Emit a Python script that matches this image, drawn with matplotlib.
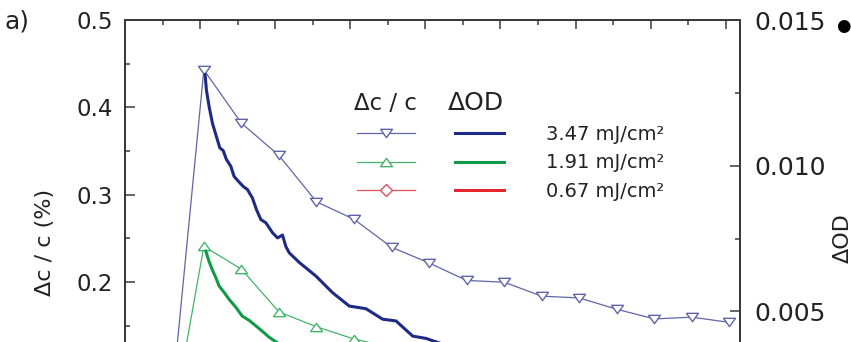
import matplotlib
matplotlib.use("Agg")
import matplotlib.pyplot as plt
from matplotlib.ticker import MultipleLocator, FormatStrFormatter

# ---- data -------------------------------------------------------------
# relative concentration change (Δc/c, %) sampled every 0.5 time units
t_dc = [-0.45, 0.05, 0.55, 1.05, 1.55, 2.05, 2.55, 3.05, 3.55, 4.05,
        4.55, 5.05, 5.55, 6.05, 6.55, 7.05]
dc_347 = [0.0, 0.443, 0.382, 0.345, 0.292, 0.272, 0.240, 0.222, 0.202,
          0.200, 0.184, 0.182, 0.169, 0.158, 0.160, 0.154]
dc_191 = [0.0, 0.241, 0.215, 0.166, 0.149, 0.135, 0.125, 0.116, 0.109,
          0.103, 0.099, 0.095, 0.091, 0.088, 0.086, 0.084]
dc_067 = [0.0, 0.085, 0.078, 0.068, 0.062, 0.057, 0.053, 0.050, 0.047,
          0.045, 0.043, 0.041, 0.040, 0.039, 0.038, 0.037]

# optical density change (ΔOD) traces
t_od_347 = [0.067, 0.084, 0.120, 0.164, 0.217, 0.263, 0.307, 0.351, 0.409,
            0.453, 0.497, 0.573, 0.631, 0.697, 0.751, 0.809, 0.876, 0.964,
            1.031, 1.097, 1.143, 1.187, 1.320, 1.543, 1.764, 1.987, 2.209,
            2.431, 2.609, 2.831, 3.009, 3.200, 3.500, 4.000, 4.500, 5.000,
            5.500, 6.000, 6.500, 7.100]
od_347 = [0.01312, 0.01260, 0.01203, 0.01146, 0.01100, 0.01061, 0.01052,
          0.01021, 0.00998, 0.00963, 0.00950, 0.00929, 0.00918, 0.00889,
          0.00849, 0.00815, 0.00804, 0.00770, 0.00752, 0.00762, 0.00722,
          0.00701, 0.00668, 0.00621, 0.00564, 0.00518, 0.00509, 0.00473,
          0.00467, 0.00415, 0.00407, 0.00390, 0.00360, 0.00320, 0.00290,
          0.00270, 0.00250, 0.00240, 0.00230, 0.00220]

t_od_191 = [0.076, 0.120, 0.160, 0.209, 0.253, 0.320, 0.387, 0.476, 0.560,
            0.653, 0.743, 0.827, 0.920, 1.100, 1.400, 1.800, 2.500, 3.500,
            4.500, 5.500, 6.500, 7.100]
od_191 = [0.00707, 0.00671, 0.00644, 0.00616, 0.00587, 0.00565, 0.00541,
          0.00514, 0.00484, 0.00469, 0.00450, 0.00432, 0.00411, 0.00380,
          0.00340, 0.00300, 0.00250, 0.00210, 0.00180, 0.00160, 0.00150,
          0.00140]

t_od_067 = [0.07, 0.5, 1.0, 2.0, 3.0, 4.0, 5.0, 6.0, 7.1]
od_067 = [0.0025, 0.0019, 0.0016, 0.0012, 0.0010, 0.0009, 0.0008, 0.0007,
          0.0007]

fluence_labels = ["3.47 mJ/cm²", "1.91 mJ/cm²", "0.67 mJ/cm²"]

# ---- style ------------------------------------------------------------
W, H = 851, 342
thin_cols = ["#6164a8", "#43b46a", "#e0505c"]
thick_cols = ["#1e2a86", "#119a47", "#e3262f"]
spine_col = "#3a3a3a"
text_col = "#222222"

# flattened open triangles
tri_down = [(-1.0, 0.7), (1.0, 0.7), (0.0, -0.7), (-1.0, 0.7)]
tri_up = [(-1.0, -0.7), (1.0, -0.7), (0.0, 0.7), (-1.0, -0.7)]


def fx(px):
    return px / W


def fy(py):
    return 1 - py / H


fig = plt.figure(figsize=(W / 100, H / 100), dpi=100)
fig.patch.set_facecolor("white")

ax_left, ax_right, ax_top, ax_bot = 125, 740, 20, 457
ax = fig.add_axes([fx(ax_left), fy(ax_bot), (ax_right - ax_left) / W,
                   (ax_bot - ax_top) / H])
ax2 = ax.twinx()

# Δc/c curves (left axis)
h_dc = []
for vals, col, mk, ms in [(dc_347, thin_cols[0], tri_down, 8.6),
                          (dc_191, thin_cols[1], tri_up, 8.6),
                          (dc_067, thin_cols[2], "D", 6)]:
    ln, = ax.plot(t_dc, vals, color=col, lw=0.9, marker=mk, ms=ms,
                  mfc="white", mec=col, mew=1.0)
    h_dc.append(ln)

# ΔOD curves (right axis)
h_od = []
for tt, vals, col in [(t_od_347, od_347, thick_cols[0]),
                      (t_od_191, od_191, thick_cols[1]),
                      (t_od_067, od_067, thick_cols[2])]:
    ln, = ax2.plot(tt, vals, color=col, lw=2.2, solid_joinstyle="round")
    h_od.append(ln)

ax.set_xlim(-1, 7.19)
ax.set_ylim(0, 0.5)
ax2.set_ylim(0, 0.015)

ax.xaxis.set_major_locator(MultipleLocator(1))
ax.xaxis.set_minor_locator(MultipleLocator(0.5))
ax.yaxis.set_major_locator(MultipleLocator(0.1))
ax.yaxis.set_minor_locator(MultipleLocator(0.05))
ax.yaxis.set_major_formatter(FormatStrFormatter("%.1f"))
ax2.yaxis.set_major_locator(MultipleLocator(0.005))
ax2.yaxis.set_minor_locator(MultipleLocator(0.0025))
ax2.yaxis.set_major_formatter(FormatStrFormatter("%.3f"))

for a in (ax, ax2):
    for s in a.spines.values():
        s.set_linewidth(1.4)
        s.set_color(spine_col)

ax.tick_params(axis="x", which="both", direction="in", top=True,
               bottom=True, labelbottom=False, color=spine_col, width=1.1)
ax.tick_params(axis="x", which="major", length=6.5)
ax.tick_params(axis="x", which="minor", length=3.5)
ax.tick_params(axis="y", which="both", direction="in", left=True,
               right=False, color=spine_col, width=1.1)
ax.tick_params(axis="y", which="major", length=7, pad=9, labelsize=16.5,
               labelcolor=text_col)
ax.tick_params(axis="y", which="minor", length=3.5)
ax2.tick_params(axis="y", which="both", direction="in", right=True,
                left=False, color=spine_col, width=1.1)
ax2.tick_params(axis="y", which="major", length=7, pad=10, labelsize=18,
                labelcolor=text_col)
ax2.tick_params(axis="y", which="minor", length=3.5)

ax.set_ylabel("Δc / c (%)", fontsize=16, color=text_col)
ax.yaxis.set_label_coords((55 - ax_left) / (ax_right - ax_left),
                          (ax_bot - 242) / (ax_bot - ax_top))

fig.text(fx(843), fy(238), "ΔOD", rotation=90, ha="center", va="center",
         fontsize=16, color=text_col)
fig.text(fx(4), fy(22), "a)", ha="left", va="center", fontsize=18,
         color=text_col)
fig.text(fx(843), fy(26), "●", ha="center", va="center", fontsize=12,
         color="black")

# legend: headers plus two key columns sharing one label column
fig.text(fx(385), fy(103), "Δc / c", ha="center", va="center",
         fontsize=16.5, color=text_col)
fig.text(fx(476), fy(103), "ΔOD", ha="center", va="center",
         fontsize=18, color=text_col)

leg_top = 125
leg1 = ax2.legend(h_dc, ["", "", ""], loc="upper left",
                  bbox_to_anchor=(fx(357), fy(leg_top)),
                  bbox_transform=fig.transFigure, frameon=False,
                  fontsize=14, handlelength=3.0, handletextpad=0,
                  labelspacing=0.48, borderpad=0, borderaxespad=0,
                  numpoints=1)
ax2.add_artist(leg1)
leg2 = ax2.legend(h_od, fluence_labels, loc="upper left",
                  bbox_to_anchor=(fx(455), fy(leg_top)),
                  bbox_transform=fig.transFigure, frameon=False,
                  fontsize=14, handlelength=2.5, handletextpad=2.2,
                  labelspacing=0.48, borderpad=0, borderaxespad=0)
for txt in leg2.get_texts():
    txt.set_color(text_col)

fig.savefig("out.png", dpi=100)
